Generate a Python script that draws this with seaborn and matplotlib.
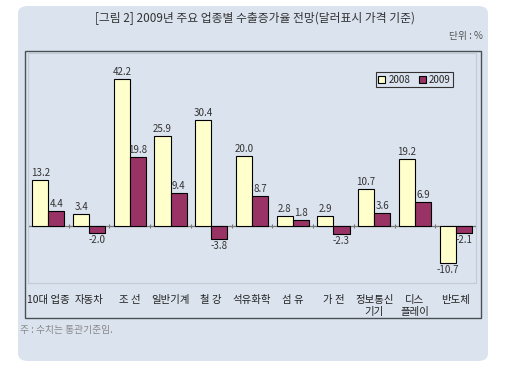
import pandas as pd
import numpy as np
import matplotlib.pyplot as plt
import seaborn as sns
from matplotlib.patches import FancyBboxPatch, Rectangle

industries = ["10대 업종", "자동차", "조 선", "일반기계", "철 강", "석유화학",
              "섬 유", "가 전", "정보통신\n기기", "디스\n플레이", "반도체"]
growth_2008 = [13.2, 3.4, 42.2, 25.9, 30.4, 20.0, 2.8, 2.9, 10.7, 19.2, -10.7]
growth_2009 = [4.4, -2.0, 19.8, 9.4, -3.8, 8.7, 1.8, -2.3, 3.6, 6.9, -2.1]
years = ["2008", "2009"]

BG = '#dbe3ee'

df = pd.DataFrame({
    'industry': industries * 2,
    'value': growth_2008 + growth_2009,
    'year': [years[0]] * len(industries) + [years[1]] * len(industries),
})

sns.set_style('white')
plt.rcParams['font.family'] = ['Noto Sans CJK KR', 'DejaVu Sans']

fig = plt.figure(figsize=(5.12, 3.67), dpi=100)
W, H = 512, 367

def fx(px):
    return px / W

def fy(py):
    return 1 - py / H

# outer rounded panel
fig.patches.append(FancyBboxPatch((fx(18), fy(361)), fx(488 - 18), (361 - 6) / H,
                                  boxstyle='round,pad=0,rounding_size=0.02',
                                  transform=fig.transFigure, facecolor=BG,
                                  edgecolor='none', zorder=-2))
# inner dark box
fig.patches.append(Rectangle((fx(25), fy(318)), fx(481 - 25), (318 - 51) / H,
                             transform=fig.transFigure, facecolor='none',
                             edgecolor='#4a4f55', linewidth=1.0, zorder=-1))

ax = fig.add_axes([fx(28), fy(283), fx(476 - 28), (283 - 53) / H])
ax.set_zorder(5)
ax.set_facecolor(BG)

sns.barplot(data=df, x='industry', y='value', hue='year',
            palette=['#ffffcc', '#993366'], saturation=1, edgecolor='black',
            linewidth=0.8, width=0.79, ax=ax, zorder=3)

for c in ax.containers:
    ax.bar_label(c, fmt='%.1f', fontsize=7, color='#333333', padding=1.5)

ax.set_ylim(-16.4, 49.7)
ax.set_xlim(-0.5, len(industries) - 0.5)
ax.axhline(0, color='#777777', linewidth=0.9, zorder=2)
ax.vlines(np.arange(-0.5, len(industries)), -0.5, 0.5, color='#777777',
          linewidth=0.8, zorder=2)

ax.set_xlabel('')
ax.set_ylabel('')
ax.set_yticks([])
ax.tick_params(axis='x', length=0, pad=9, labelsize=7.5, labelcolor='#222222')
for s in ax.spines.values():
    s.set_color('#c3ccd6')
    s.set_linewidth(0.8)

leg = ax.legend(loc='upper right', bbox_to_anchor=(0.96, 0.94), ncol=2,
                fontsize=7, frameon=True, fancybox=False, edgecolor='#333333',
                facecolor=BG, framealpha=1, handlelength=0.7, handleheight=0.7,
                handletextpad=0.3, columnspacing=0.9, borderpad=0.3)
leg.get_frame().set_linewidth(0.8)

fig.text(fx(255), fy(18), '[그림 2] 2009년 주요 업종별 수출증가율 전망(달러표시 가격 기준)',
         ha='center', va='center', fontsize=8.5, color='#333333')
fig.text(fx(483), fy(36), '단위 : %', ha='right', va='center', fontsize=7,
         color='#555555')
fig.text(fx(20), fy(330), '주 : 수치는 통관기준임.', ha='left', va='center',
         fontsize=7, color='#888888')

fig.savefig('out.png', dpi=100, facecolor='white')
